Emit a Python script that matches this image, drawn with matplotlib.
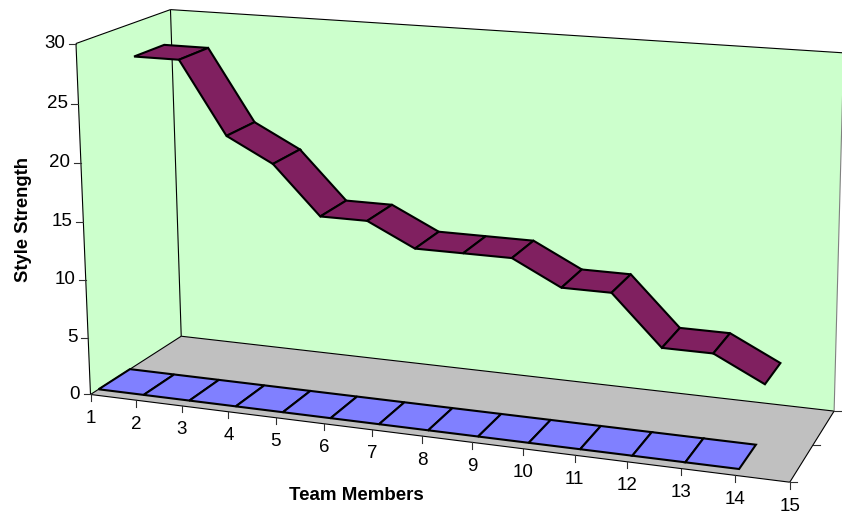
"""3-D style line chart of style strength per team member, drawn on a 2-D axes
through a small projective camera."""

import numpy as np
import matplotlib
matplotlib.use("Agg")
import matplotlib.pyplot as plt
from matplotlib.patches import Polygon

plt.rcParams["font.family"] = ["Liberation Sans", "DejaVu Sans"]

members = list(range(1, 15))
style_strength = [27.1, 27.1, 20.8, 18.7, 14.5, 14.5, 12.5, 12.5, 12.5, 10.4, 10.4, 6.2, 6.2, 4.1]
baseline_series = [0] * 14

x_tick_labels = [str(i) for i in range(1, 16)]
y_ticks = [0, 5, 10, 15, 20, 25, 30]

WALL = "#CCFFCC"
FLOOR = "#C0C0C0"
BLUE = "#8080FF"
PURPLE = "#802060"

# box corners and ticks (member, depth, value) -> canvas pixels, used to solve the camera
anchors = [
    ((1, 0, 0), (90.7, 393.7)), ((1, 0, 5), (88.3, 337.3)), ((1, 0, 10), (85, 280.3)),
    ((1, 0, 15), (82.7, 222)), ((1, 0, 20), (81.3, 163.3)), ((1, 0, 25), (78.7, 103.3)),
    ((1, 0, 30), (76, 43.3)),
    ((1, 1, 0), (181, 336)), ((1, 1, 30), (170.7, 9.7)),
    ((15, 0, 0), (789.7, 481.7)), ((15, 1, 0), (834.3, 411.3)),
    ((15, 1, 30), (843.5, 52.8)),
    ((2, 0, 0), (136, 400)), ((3, 0, 0), (182, 406.7)), ((4, 0, 0), (228.7, 412)),
    ((5, 0, 0), (276, 418.7)), ((6, 0, 0), (323.3, 423.3)), ((7, 0, 0), (372.7, 430)),
    ((8, 0, 0), (421.7, 435.7)), ((9, 0, 0), (472, 442)), ((10, 0, 0), (523.3, 448.3)),
    ((12, 0, 0), (627, 461.7)), ((13, 0, 0), (681, 469)), ((14, 0, 0), (734.7, 475.7)),
]


def fit_camera(pairs):
    rows = []
    for (u, z, y), (px, py) in pairs:
        w = [u / 15, z, y / 30, 1]
        rows.append(w + [0, 0, 0, 0] + [-px / 842 * c for c in w])
        rows.append([0, 0, 0, 0] + w + [-py / 514 * c for c in w])
    _, _, vt = np.linalg.svd(np.array(rows))
    return vt[-1].reshape(3, 4)


P = fit_camera(anchors)


def project(u, z, y):
    a, b, c = P @ np.array([u / 15, z, y / 30, 1])
    return a / c * 842, b / c * 514


def face(ax, pts, fc, ec="none", lw=0.0, z=1):
    ax.add_patch(Polygon([project(*p) for p in pts], closed=True, fc=fc, ec=ec,
                         lw=lw, joinstyle="miter", zorder=z))


def edge(ax, a, b, color="black", lw=0.8, z=2):
    (x0, y0), (x1, y1) = project(*a), project(*b)
    ax.plot([x0, x1], [y0, y1], color=color, lw=lw, zorder=z, solid_capstyle="butt")


def ribbon(ax, values, z0, z1, color):
    for i in range(len(values) - 1):
        u0, u1 = members[i], members[i + 1]
        v0, v1 = values[i], values[i + 1]
        face(ax, [(u0, z0, v0), (u1, z0, v1), (u1, z1, v1), (u0, z1, v0)],
             color, ec="black", lw=1.5, z=5)


fig = plt.figure(figsize=(8.42, 5.14), dpi=100)
ax = fig.add_axes([0, 0, 1, 1])
ax.set_xlim(0, 842)
ax.set_ylim(514, 0)
ax.axis("off")

# walls and floor
face(ax, [(1, 0, 0), (1, 1, 0), (1, 1, 30), (1, 0, 30)], WALL)
face(ax, [(1, 1, 0), (15, 1, 0), (15, 1, 30), (1, 1, 30)], WALL)
face(ax, [(1, 0, 0), (15, 0, 0), (15, 1, 0), (1, 1, 0)], FLOOR)

edge(ax, (1, 0, 0), (1, 0, 30))
edge(ax, (1, 0, 30), (1, 1, 30))
edge(ax, (1, 1, 30), (15, 1, 30))
edge(ax, (1, 1, 0), (1, 1, 30))
edge(ax, (1, 0, 0), (1, 1, 0))
edge(ax, (1, 1, 0), (15, 1, 0))
edge(ax, (1, 0, 0), (15, 0, 0))
edge(ax, (15, 0, 0), (15, 1, 0))
edge(ax, (15, 1, 0), (15, 1, 30), color="#808080")

# two series lanes, each a third of the depth with the default gap around it
ribbon(ax, baseline_series, 1 / 12, 5 / 12, BLUE)
ribbon(ax, style_strength, 7 / 12, 11 / 12, PURPLE)

# category ticks along the front of the floor
for i, lab in enumerate(x_tick_labels):
    px, py = project(i + 1, 0, 0)
    ax.plot([px, px], [py, py + 6.5], color="#303030", lw=0.8, zorder=2)
    ax.text(px, py + 24, lab, ha="center", va="center", fontsize=13.5)

for v in y_ticks:
    px, py = project(1, 0, v)
    ax.plot([px - 7, px], [py, py], color="#303030", lw=0.8, zorder=2)
    ax.text(px - 10.5, py, str(v), ha="right", va="center", fontsize=13.5)

# depth ticks on the right of the floor
for d in (0, 0.5, 1):
    px, py = project(15, d, 0)
    ax.plot([px, px + 7], [py, py], color="#303030", lw=0.8, zorder=2)

ax.text(356, 495, "Team Members", ha="center", va="center", fontsize=13.5, fontweight="bold")
ax.text(24, 220, "Style Strength", ha="center", va="center", rotation=90, fontsize=13.3, fontweight="bold")

fig.savefig("out.png", dpi=100)
